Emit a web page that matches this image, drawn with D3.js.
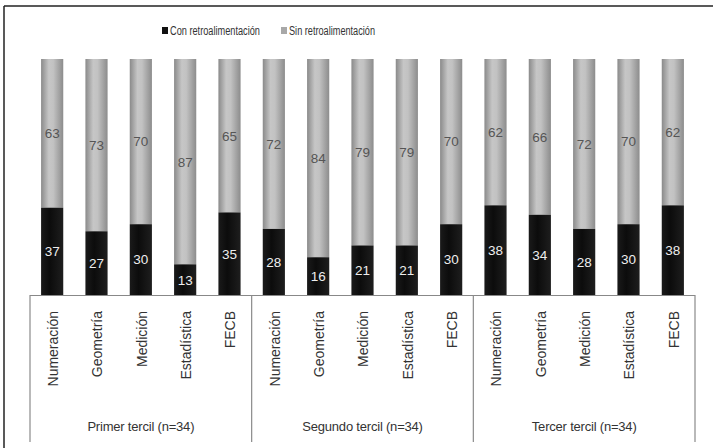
<!DOCTYPE html>
<html><head><meta charset="utf-8">
<script src="https://cdn.jsdelivr.net/npm/d3@7"></script>
<style>body{margin:0;background:#fff;} svg{display:block;font-family:"Liberation Sans",Arial,sans-serif;}</style>
</head><body>
<svg id="c" width="713" height="448"></svg>
<script>
const categories = ["Numeración","Geometría","Medición","Estadística","FECB"];
const groups = ["Primer tercil (n=34)","Segundo tercil (n=34)","Tercer tercil (n=34)"];
const seriesNames = ["Con retroalimentación","Sin retroalimentación"];
const conValues = [37,27,30,13,35, 28,16,21,21,30, 38,34,28,30,38];
const sinValues = [63,73,70,87,65, 72,84,79,79,70, 62,66,72,70,62];

const svg = d3.select("#c");
const defs = svg.append("defs");
const gg = defs.append("linearGradient").attr("id","gGray").attr("x1","0").attr("x2","1").attr("y1","0").attr("y2","0");
[[0,"#8a8a8a"],[0.35,"#c6c6c6"],[0.55,"#c2c2c2"],[1,"#8c8c8c"]].forEach(s=>gg.append("stop").attr("offset",s[0]).attr("stop-color",s[1]));
const gb = defs.append("linearGradient").attr("id","gBlack").attr("x1","0").attr("x2","1").attr("y1","0").attr("y2","0");
[[0,"#1a1a1a"],[0.4,"#0c0c0c"],[1,"#1e1e1e"]].forEach(s=>gb.append("stop").attr("offset",s[0]).attr("stop-color",s[1]));

// outer frame
svg.append("line").attr("x1",4).attr("x2",713).attr("y1",6).attr("y2",6).attr("stroke","#222").attr("stroke-width",1.5);
svg.append("line").attr("x1",4).attr("x2",4).attr("y1",6).attr("y2",448).attr("stroke","#222").attr("stroke-width",1.5);

const keys = d3.range(conValues.length);
const x = d3.scaleBand().domain(keys).range([30,695]).paddingInner(0.5).paddingOuter(0.25);
const y = d3.scaleLinear().domain([0,100]).range([295,59]);

const bars = svg.append("g");
keys.forEach(i=>{
  const x0 = x(i), w = x.bandwidth();
  bars.append("rect").attr("x",x0).attr("width",w).attr("y",y(conValues[i]+sinValues[i])).attr("height",y(conValues[i])-y(conValues[i]+sinValues[i])).attr("fill","url(#gGray)");
  bars.append("rect").attr("x",x0).attr("width",w).attr("y",y(conValues[i])).attr("height",y(0)-y(conValues[i])).attr("fill","url(#gBlack)");
  bars.append("text").attr("x",x0+w/2).attr("y",(y(0)+y(conValues[i]))/2).attr("dy","0.36em").attr("text-anchor","middle").attr("fill","#eee").attr("font-size",13.5).text(conValues[i]);
  bars.append("text").attr("x",x0+w/2).attr("y",(y(conValues[i])+y(conValues[i]+sinValues[i]))/2).attr("dy","0.36em").attr("text-anchor","middle").attr("fill","#555").attr("font-size",13.5).text(sinValues[i]);
});

// axis line
svg.append("line").attr("x1",30).attr("x2",695).attr("y1",295.5).attr("y2",295.5).attr("stroke","#888").attr("stroke-width",1);
// group separators
const step = x.step();
d3.range(groups.length+1).forEach(k=>{
  const xx = 30 + k*step*categories.length;
  svg.append("line").attr("x1",xx).attr("x2",xx).attr("y1",295).attr("y2",442).attr("stroke","#8a8a8a").attr("stroke-width",1.2);
});
// category labels
keys.forEach(i=>{
  const cx = x(i)+x.bandwidth()/2 + 1;
  svg.append("text").attr("transform",`translate(${cx},311) rotate(-90)`).attr("text-anchor","end").attr("dy","0.35em").attr("font-size",14).attr("fill","#333").text(categories[i % categories.length]);
});
// group labels
groups.forEach((g,k)=>{
  const cx = 30 + (k+0.5)*step*categories.length;
  svg.append("text").attr("x",cx).attr("y",431).attr("text-anchor","middle").attr("font-size",13).attr("fill","#333").attr("letter-spacing","-0.2").text(g);
});
// legend
const legend = svg.append("g");
const lx = [162, 281], colors = ["#111","#a8a8a8"], lw = [90, 86];
seriesNames.forEach((s,k)=>{
  legend.append("rect").attr("x",lx[k]).attr("y",27).attr("width",6).attr("height",7).attr("fill",colors[k]);
  legend.append("text").attr("x",lx[k]+8).attr("y",30.5).attr("dy","0.35em").attr("font-size",12).attr("fill","#333").attr("textLength",lw[k]).attr("lengthAdjust","spacingAndGlyphs").text(s);
});
</script>
</body></html>
